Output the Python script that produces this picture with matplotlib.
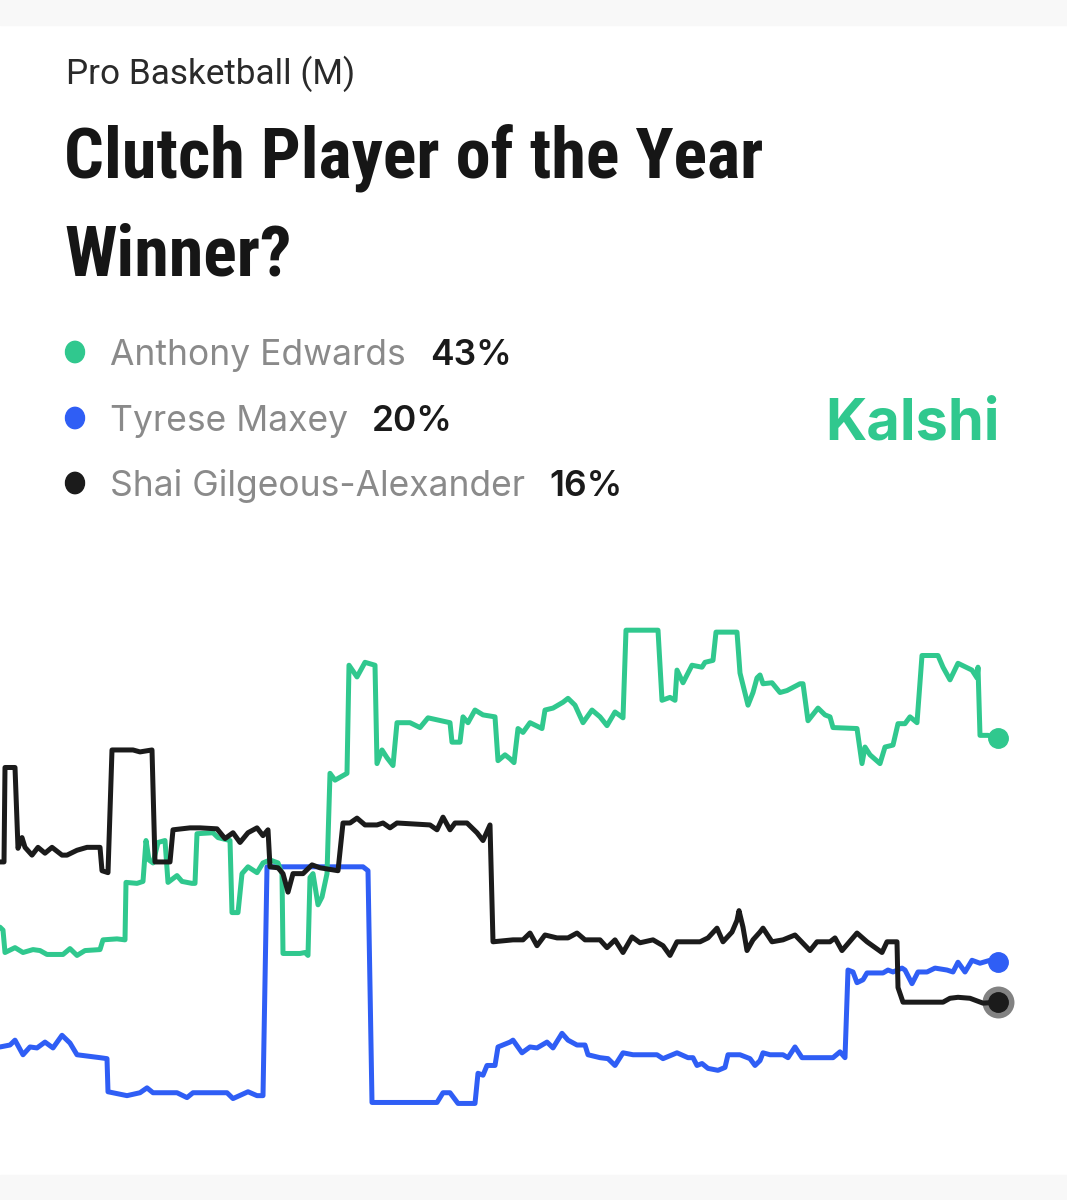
import matplotlib
matplotlib.use("Agg")
import matplotlib.pyplot as plt
from matplotlib.patches import Rectangle

# ---- data: time step, win probability (%) ----
edwards_t = [0, 3, 5, 15, 23, 33, 40, 47, 63, 70, 77, 85, 100, 103, 117, 125,
             126, 137, 143, 146, 149, 153, 158, 165, 168, 177, 182, 192, 195,
             197, 213, 218, 230, 232, 238, 242, 248, 257, 263, 270, 278, 282,
             283, 300, 305, 308, 310, 313, 318, 322, 327, 330, 335, 347, 349,
             357, 365, 375, 377, 382, 387, 393, 397, 410, 420, 428, 450, 452,
             460, 463, 468, 475, 483, 495, 498, 505, 510, 514, 518, 523, 530,
             542, 545, 553, 558, 563, 568, 575, 583, 592, 600, 607, 615, 623,
             626, 658, 662, 670, 675, 677, 683, 692, 702, 705, 713, 716, 737,
             740, 748, 753, 757, 760, 763, 772, 780, 787, 800, 803, 808, 818,
             825, 830, 833, 857, 862, 865, 870, 880, 885, 893, 898, 905, 910,
             917, 922, 938, 943, 950, 958, 972, 977, 978, 980, 988, 998]
edwards_p = [23.6, 23.3, 21.0, 21.5, 21.0, 21.3, 21.2, 20.8, 20.8, 21.4, 20.7,
             21.2, 21.3, 22.3, 22.4, 22.3, 28.2, 28.1, 28.3, 32.5, 30.5, 30.2,
             32.3, 32.5, 28.2, 28.9, 28.3, 28.1, 28.1, 33.2, 33.3, 32.8, 32.5,
             25.1, 25.1, 29.1, 29.8, 29.2, 30.2, 30.5, 30.2, 29.1, 20.9, 20.9,
             21.0, 20.7, 28.7, 29.1, 25.9, 26.7, 29.1, 39.4, 38.7, 39.4, 50.5,
             49.3, 50.8, 50.5, 40.4, 41.8, 41.0, 40.2, 44.6, 44.6, 44.1, 45.1,
             44.6, 42.6, 42.6, 45.2, 44.6, 45.9, 45.4, 45.2, 40.7, 41.3, 40.9,
             40.5, 44.0, 43.6, 44.6, 44.0, 45.9, 46.1, 46.4, 46.7, 47.1, 46.4,
             44.6, 45.9, 45.2, 44.3, 45.7, 45.1, 54.1, 54.1, 46.9, 47.2, 46.9,
             50.0, 48.7, 50.5, 50.3, 50.8, 51.0, 53.9, 53.9, 49.7, 46.4, 47.7,
             49.2, 49.5, 48.6, 48.7, 47.7, 47.9, 48.6, 48.6, 44.8, 46.1, 45.4,
             45.2, 44.1, 44.0, 40.4, 42.1, 41.3, 40.4, 42.1, 42.3, 44.5, 44.5,
             45.2, 44.6, 51.5, 51.5, 50.3, 49.0, 50.7, 50.0, 49.2, 50.3, 43.3,
             43.3, 43.0]

maxey_t = [0, 10, 15, 23, 30, 37, 45, 53, 62, 70, 77, 100, 107, 108, 127, 140,
           147, 153, 177, 187, 193, 227, 233, 248, 257, 263, 267, 363, 368, 372,
           437, 443, 450, 458, 475, 478, 483, 487, 495, 498, 510, 513, 522, 530,
           537, 547, 553, 562, 568, 577, 585, 588, 600, 608, 615, 623, 633, 657,
           663, 677, 688, 693, 697, 702, 708, 718, 725, 728, 740, 750, 755, 760,
           763, 770, 783, 788, 795, 802, 833, 840, 845, 848, 853, 857, 863, 867,
           883, 888, 893, 902, 905, 912, 918, 927, 935, 947, 953, 958, 965, 972,
           980, 990, 998]
maxey_p = [11.3, 11.5, 12.0, 10.5, 11.3, 11.2, 11.8, 11.2, 12.5, 11.7, 10.5,
           10.2, 10.1, 6.7, 6.3, 6.6, 7.1, 6.6, 6.6, 6.1, 6.6, 6.6, 6.0, 6.7,
           6.3, 6.3, 29.8, 29.8, 29.4, 5.6, 5.6, 6.6, 6.6, 5.5, 5.5, 8.6, 8.4,
           9.4, 9.4, 11.3, 11.8, 12.0, 10.7, 11.3, 11.2, 11.8, 11.2, 12.7, 12.0,
           11.5, 11.5, 10.5, 10.2, 10.1, 9.4, 10.7, 10.5, 10.5, 10.1, 10.7,
           10.2, 10.2, 9.4, 9.6, 9.1, 8.9, 9.2, 10.5, 10.5, 10.1, 9.4, 9.9,
           10.7, 10.5, 10.5, 10.2, 11.3, 10.2, 10.2, 10.8, 10.2, 19.2, 19.0,
           17.9, 18.2, 18.9, 18.9, 19.2, 19.0, 19.4, 19.2, 17.8, 19.0, 19.0,
           19.4, 19.2, 19.0, 20.0, 19.0, 20.2, 19.9, 20.2, 20.0]

sga_t = [0, 4, 5, 15, 18, 22, 25, 32, 38, 45, 52, 62, 67, 77, 87, 100, 102,
         108, 112, 133, 140, 152, 155, 170, 173, 190, 200, 217, 225, 233, 240,
         248, 257, 263, 268, 270, 278, 283, 288, 293, 303, 312, 320, 338, 343,
         350, 357, 365, 377, 383, 390, 397, 430, 437, 443, 450, 455, 467, 477,
         483, 490, 493, 513, 523, 530, 537, 545, 557, 568, 577, 585, 600, 607,
         615, 623, 632, 640, 653, 663, 670, 677, 700, 708, 717, 723, 732, 737,
         739, 743, 747, 753, 760, 763, 772, 783, 795, 810, 817, 830, 835, 842,
         857, 867, 882, 887, 897, 898, 903, 943, 950, 958, 970, 983, 998]
sga_p = [30.3, 30.3, 40.0, 40.0, 31.7, 32.8, 31.8, 31.0, 31.8, 31.2, 31.8,
         31.0, 31.0, 31.5, 31.8, 31.8, 29.4, 29.2, 41.8, 41.8, 41.6, 41.8,
         30.3, 30.3, 33.6, 33.8, 33.8, 33.7, 32.7, 33.3, 32.3, 33.3, 33.8,
         33.0, 33.6, 29.8, 29.7, 29.1, 27.2, 29.1, 29.1, 30.0, 29.7, 29.4,
         34.3, 34.3, 34.8, 34.1, 34.1, 34.3, 33.8, 34.3, 34.1, 33.6, 34.9,
         33.6, 34.3, 34.3, 33.3, 32.5, 34.1, 22.1, 22.3, 22.3, 23.0, 21.7,
         22.8, 22.5, 22.5, 23.0, 22.3, 22.3, 21.5, 22.3, 21.0, 22.6, 22.0,
         22.3, 21.7, 20.7, 22.1, 22.1, 22.5, 23.5, 22.1, 23.1, 24.3, 25.3,
         23.6, 21.2, 22.3, 23.1, 23.5, 22.1, 22.3, 22.8, 21.2, 22.1, 22.1,
         22.5, 21.2, 23.0, 22.1, 21.0, 22.1, 22.1, 17.4, 15.9, 15.9, 16.3,
         16.4, 16.3, 15.8, 15.9]

names = ["Anthony Edwards", "Tyrese Maxey", "Shai Gilgeous-Alexander"]
current = ["43%", "20%", "16%"]

GREEN = "#30c88e"
BLUE = "#2f5ef5"
BLACK = "#1b1b1b"
colors = [GREEN, BLUE, BLACK]

W, H = 1067, 1200
TITLE_FONT = ["Roboto Condensed", "Liberation Sans Narrow", "DejaVu Sans"]
UI_FONT = ["Inter", "DejaVu Sans"]


def fx(px):
    return px / W


def fy(py):
    return 1 - py / H


fig = plt.figure(figsize=(W / 100, H / 100), dpi=100)
fig.patch.set_facecolor("white")
# light grey bands top and bottom (screenshot margins)
fig.patches.append(Rectangle((0, fy(25)), 1, 25 / H, transform=fig.transFigure,
                             color="#f8f8f8", zorder=0))
fig.patches.append(Rectangle((0, 0), 1, 25 / H, transform=fig.transFigure,
                             color="#f8f8f8", zorder=0))

# header
fig.text(fx(66), fy(84), "Pro Basketball (M)", fontsize=25.3,
         family=["Roboto", "DejaVu Sans"], color="#2a2a2a", va="baseline")
fig.text(fx(64), fy(177), "Clutch Player of the Year", fontsize=50.5,
         fontweight="bold", family=TITLE_FONT, color="#161616", va="baseline")
fig.text(fx(64), fy(275), "Winner?", fontsize=50.5,
         fontweight="bold", family=TITLE_FONT, color="#161616", va="baseline")

# legend rows
renderer = fig.canvas.get_renderer()
row_y = [352, 418, 483]
for name, pct, c, y in zip(names, current, colors, row_y):
    fig.patches.append(plt.Circle((fx(75), fy(y)), 9.5 / W,
                                  transform=fig.transFigure, color=c))
    t = fig.text(fx(110), fy(y + 13), name, fontsize=25.5, family=UI_FONT,
                 color="#8a8a8a", va="baseline")
    bb = t.get_window_extent(renderer=renderer)
    fig.text(fx(bb.x1 + 24), fy(y + 13), pct, fontsize=25.5, family=UI_FONT,
             fontweight="semibold", color="#1a1a1a", va="baseline")

fig.text(fx(1000), fy(440), "Kalshi", fontsize=41.5, fontweight="bold",
         family=UI_FONT, color=GREEN, ha="right", va="baseline")

# chart
ax = fig.add_axes([0, 43 / H, 1, 557 / H])
ax.set_xlim(0, W)
ax.set_ylim(0, 57.2)
ax.set_axis_off()

series = [(maxey_t, maxey_p, BLUE), (edwards_t, edwards_p, GREEN),
          (sga_t, sga_p, BLACK)]
for t, p, c in series:
    ax.plot(t, p, color=c, lw=3.6, solid_joinstyle="round",
            solid_capstyle="round")

ax.plot(edwards_t[-1], edwards_p[-1], "o", ms=14, color=GREEN)
ax.plot(maxey_t[-1], maxey_p[-1], "o", ms=14, color=BLUE)
ax.plot(sga_t[-1], sga_p[-1], "o", ms=23, color=BLACK, alpha=0.55, mew=0)
ax.plot(sga_t[-1], sga_p[-1], "o", ms=14, color=BLACK)

fig.savefig("out.png", dpi=100, facecolor=fig.get_facecolor())
